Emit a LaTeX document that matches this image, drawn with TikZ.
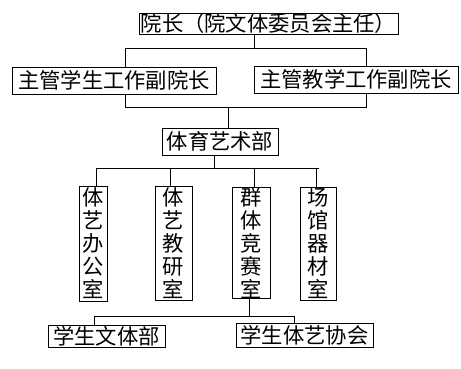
\documentclass[tikz,border=0pt]{standalone}
\usepackage{fontspec}
\newfontfamily\cjk{Noto Sans CJK SC}
\begin{document}
\begin{tikzpicture}[x=1pt,y=-1pt,
  box/.style={draw,line width=0.8pt,inner sep=0pt,font=\cjk\fontsize{21.3}{23}\selectfont},
  vbox/.style={box,align=center},
  conn/.style={line width=0.8pt}]
\useasboundingbox[fill=white] (0,0) rectangle (461,368);
% nodes
\node[box,minimum width=259pt,minimum height=21pt] (top) at (268.5,23.5) {院长（院文体委员会主任）};
\node[box,minimum width=204pt,minimum height=27pt] (L) at (114,80.5) {主管学生工作副院长};
\node[box,minimum width=204pt,minimum height=27pt] (R) at (356,79.5) {主管教学工作副院长};
\node[box,minimum width=116pt,minimum height=27pt] (PE) at (220,141.5) {体育艺术部};
\node[vbox,minimum width=28pt,minimum height=115pt] (B1) at (93,243.5) {体\\艺\\办\\公\\室};
\node[vbox,minimum width=37pt,minimum height=114pt] (B2) at (173.5,243) {体\\艺\\教\\研\\室};
\node[vbox,minimum width=38pt,minimum height=110pt] (B3) at (251,243) {群\\体\\竞\\赛\\室};
\node[vbox,minimum width=36pt,minimum height=113pt] (B4) at (318,243.5) {场\\馆\\器\\材\\室};
\node[box,minimum width=117pt,minimum height=22pt] (S1) at (106.5,336) {学生文体部};
\node[box,minimum width=137pt,minimum height=24pt] (S2) at (304.5,335) {学生体艺协会};
% junctions
\coordinate (j1) at (254,48);
\coordinate (h1L) at (125,48);
\coordinate (h1R) at (366,48);
\coordinate (h2L) at (125,107);
\coordinate (h2R) at (366,107);
\coordinate (j2) at (228,107);
\coordinate (j3) at (214,168);
\coordinate (h3L) at (96,168);
\coordinate (h3R) at (319,168);
\coordinate (d2) at (170,168);
\coordinate (d3) at (254,168);
\coordinate (d4) at (316,168);
\coordinate (j4) at (249,316);
\coordinate (h4L) at (94,316);
\coordinate (h4R) at (294,316);
% connectors
\draw[conn] (top.south -| j1) -- (j1);
\draw[conn] (L.north -| h1L) -- (h1L) -- (h1R) -- (R.north -| h1R);
\draw[conn] (L.south -| h2L) -- (h2L) -- (h2R) -- (R.south -| h2R);
\draw[conn] (j2) -- (PE.north -| j2);
\draw[conn] (PE.south -| j3) -- (j3);
\draw[conn] (h3L) -- (h3R);
\draw[conn] (h3L) -- (B1.north -| h3L);
\draw[conn] (d2) -- (B2.north -| d2);
\draw[conn] (d3) -- (B3.north -| d3);
\draw[conn] (d4) -- (B4.north -| d4);
\draw[conn] (B3.south -| j4) -- (j4);
\draw[conn] (S1.north -| h4L) -- (h4L) -- (h4R) -- (S2.north -| h4R);
\end{tikzpicture}
\end{document}
